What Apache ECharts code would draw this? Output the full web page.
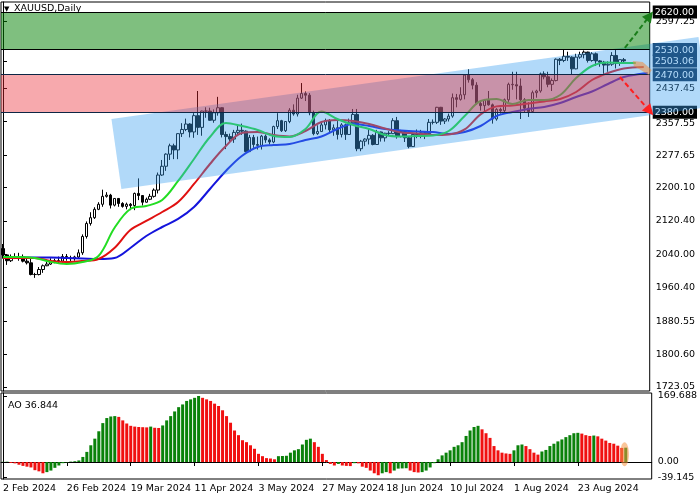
<!DOCTYPE html>
<html><head><meta charset="utf-8">
<script src="https://cdn.jsdelivr.net/npm/echarts@6/dist/echarts.min.js"></script>
<style>html,body{margin:0;padding:0;background:#fff}#c{width:700px;height:500px}</style>
</head><body><div id="c"></div>
<script>
// ================= DATA =================
const firstDay = [2024, 1, 2];          // 2 Feb 2024
const holidays = ['2024-03-29'];
const barCount = 157;
const futureSlots = 6;

const open = [
 2054,
 2039,2025,2035,2035,2034,
 2024,2020,1992,1992,2004,
 2013,2017,2024,2025,2024,
 2035,2031,2030,2034,2044,
 2083,2114,2128,2148,2160,
 2179,2182,2158,2174,2162,
 2155,2160,2157,2186,2181,
 2165,2172,2179,2194,
 2230,2251,2280,2300,2290,
 2329,2339,2352,2333,2372,
 2344,2383,2383,2361,2379,
 2391,2327,2322,2316,2332,
 2337,2335,2286,2320,2303,
 2301,2323,2314,2309,2346,
 2360,2336,2358,2385,2376,
 2414,2425,2421,2379,2329,
 2334,2350,2360,2338,2343,
 2327,2350,2327,2355,2375,
 2293,2311,2316,2325,2303,
 2333,2319,2330,2329,2360,
 2322,2334,2319,2298,2327,
 2326,2331,2329,2356,2356,
 2392,2359,2364,2371,2415,
 2411,2422,2469,2458,2445,
 2401,2396,2409,2398,2364,
 2387,2384,2410,2447,2446,
 2443,2410,2390,2382,2427,
 2431,2472,2465,2447,2456,
 2507,2504,2514,2512,2484,
 2512,2518,2524,2504,2520,
 2503,2500,2493,2495,2516,
 2497,2506
];
const high = [
 2065,
 2040,2040,2043,2044,2040,
 2030,2031,1996,2010,2016,
 2023,2031,2030,2035,2041,
 2041,2037,2037,2052,2088,
 2119,2141,2153,2165,2195,
 2189,2185,2175,2175,2165,
 2164,2163,2188,2222,2182,
 2176,2185,2198,2236,
 2266,2282,2305,2305,2330,
 2354,2365,2354,2378,2431,
 2384,2392,2391,2387,2417,
 2392,2334,2329,2338,2352,
 2353,2337,2326,2326,2322,
 2326,2327,2318,2348,2378,
 2362,2359,2390,2399,2422,
 2450,2430,2426,2384,2349,
 2358,2365,2364,2351,2359,
 2354,2353,2365,2388,2388,
 2314,2318,2342,2328,2338,
 2334,2331,2335,2366,2369,
 2338,2335,2323,2331,2339,
 2338,2335,2364,2363,2393,
 2393,2366,2377,2425,2424,
 2440,2469,2483,2462,2452,
 2407,2412,2431,2401,2390,
 2391,2413,2451,2477,2477,
 2461,2414,2404,2432,2434,
 2475,2478,2477,2461,2509,
 2510,2531,2525,2514,2520,
 2525,2528,2525,2524,2523,
 2505,2503,2502,2524,2529,
 2506,2510
];
const low = [
 2030,
 2015,2022,2029,2025,2021,
 2016,1990,1984,1990,1996,
 2012,2015,2019,2020,2021,
 2025,2024,2025,2030,2039,
 2078,2109,2125,2146,2154,
 2176,2150,2155,2154,2152,
 2148,2146,2146,2170,2157,
 2164,2170,2176,2186,
 2228,2240,2266,2268,2268,
 2321,2335,2320,2319,2326,
 2324,2367,2360,2355,2372,
 2320,2292,2309,2307,2325,
 2326,2285,2285,2295,2291,
 2291,2307,2303,2306,2340,
 2333,2333,2354,2372,2370,
 2412,2407,2373,2325,2326,
 2334,2339,2333,2324,2315,
 2320,2314,2326,2352,2287,
 2287,2299,2303,2301,2303,
 2310,2310,2325,2328,2317,
 2320,2309,2294,2297,2318,
 2318,2316,2327,2351,2352,
 2350,2352,2358,2367,2392,
 2408,2411,2451,2435,2398,
 2384,2380,2396,2353,2360,
 2377,2379,2405,2434,2411,
 2364,2379,2369,2381,2415,
 2427,2459,2440,2431,2454,
 2493,2500,2503,2470,2483,
 2508,2509,2499,2501,2491,
 2489,2472,2477,2491,2485,
 2491,2500
];
const close = [
 2039,
 2025,2035,2035,2034,2024,
 2020,1992,1992,2004,2013,
 2017,2024,2025,2024,2035,
 2031,2030,2034,2044,2083,
 2114,2128,2148,2160,2179,
 2182,2158,2174,2162,2155,
 2160,2157,2186,2181,2165,
 2172,2179,2194,2230,
 2251,2280,2300,2290,2329,
 2339,2352,2333,2372,2344,
 2383,2383,2361,2379,2391,
 2327,2322,2316,2332,2337,
 2335,2286,2320,2303,2301,
 2323,2314,2309,2346,2360,
 2336,2358,2385,2376,2414,
 2425,2421,2379,2329,2334,
 2350,2360,2338,2343,2327,
 2350,2327,2355,2375,2293,
 2311,2316,2325,2303,2333,
 2319,2330,2329,2360,2322,
 2334,2319,2298,2327,2326,
 2331,2329,2356,2356,2392,
 2359,2364,2371,2415,2411,
 2422,2469,2458,2445,2401,
 2396,2409,2398,2364,2387,
 2384,2410,2447,2446,2443,
 2410,2390,2382,2427,2431,
 2472,2465,2447,2456,2507,
 2504,2514,2512,2484,2512,
 2518,2524,2504,2520,2503,
 2500,2493,2495,2516,2497,
 2506,2503.06
];

// Alligator lines: [bar slot, price]
const jaw = [[0,2032.8],[4,2032.8],[8,2032.8],[12,2032.8],[16,2031.6],[20,2030.4],[24,2029.2],[28,2031.6],[32,2055.5],[36,2084.2],[40,2105.7],[44,2124.9],[48,2153.6],[52,2196.6],[56,2239.7],[60,2275.6],[64,2297.1],[68,2301.9],[72,2304.3],[76,2313.8],[80,2322.2],[84,2340.1],[88,2352.1],[92,2347.3],[96,2340.1],[100,2336.5],[104,2334.2],[108,2333.0],[112,2328.2],[116,2333.0],[120,2347.3],[124,2371.2],[128,2380.8],[132,2388.0],[136,2392.8],[140,2402.3],[144,2416.7],[148,2429.8],[152,2447.8],[156,2464.5],[160,2471.7],[162,2474.1]];
const teeth = [[0,2031.6],[4,2031.6],[8,2031.6],[12,2024.4],[16,2022.0],[20,2024.4],[24,2029.2],[28,2055.5],[32,2098.5],[36,2120.1],[40,2141.6],[44,2165.5],[48,2208.6],[52,2256.4],[56,2299.5],[60,2330.6],[64,2333.0],[68,2325.8],[72,2322.2],[76,2335.4],[80,2356.9],[84,2361.7],[88,2359.3],[92,2352.1],[96,2341.3],[100,2332.0],[104,2329.6],[108,2326.0],[112,2327.2],[116,2339.1],[120,2375.0],[124,2394.2],[128,2396.5],[132,2401.3],[136,2406.1],[140,2411.9],[144,2428.6],[148,2457.3],[152,2474.1],[156,2484.9],[161,2488.4]];
const lips = [[0,2034.0],[4,2034.0],[8,2031.6],[12,2022.0],[16,2017.2],[20,2022.0],[24,2036.4],[28,2103.3],[32,2148.8],[36,2155.9],[40,2170.3],[44,2215.8],[48,2268.4],[52,2321.0],[56,2354.5],[60,2347.3],[64,2337.7],[68,2323.4],[72,2321.0],[76,2340.1],[80,2382.0],[84,2364.1],[88,2349.7],[92,2340.1],[96,2325.8],[100,2322.2],[104,2323.4],[108,2324.6],[112,2335.3],[116,2371.2],[120,2407.1],[124,2411.9],[128,2399.9],[132,2409.5],[136,2409.5],[140,2421.5],[144,2462.1],[148,2490.8],[152,2499.2],[156,2498.0],[159,2498.0]];

const ao = [
 0.5,0.8,-2.5,-3.5,-7,-10,-12,-14,-21,-24,
 -29,-26,-22,-15,-9,-3,-1,1,2,4,
 13,26,43,60,79,100,113,117,118,116,
 107,99,93,91,90,89.5,89,91,88,87.5,
 94,107,118,130,141,148,157,161,165,169.688,
 165,161,157,150,144,133,118,101,81,69,
 56,51,43,34,21,15,10,9,7,15,
 15.5,16,24,30,33,45,57,60,51,39,
 21,5,-5,-9,-5,-9,-10,-10.5,-3,-3.5,
 -12,-15,-22,-29,-34,-29,-26,-29,-22,-17,
 -16.5,-16,-22,-26,-27,-26,-22,-14,-3,7,
 17,24,30,39,43,51,67,81,90,93,
 84,74,62,41,30,24,22,21,30,43,
 45,41,33,24,19,27,31,41,47,53,
 58,64,69,74,75,73,69,67,68,66,
 60,55,49,47,42,36.2,36.844
];

const priceTicks = [2597.25, 2437.45, 2357.55, 2277.65, 2200.10, 2120.40, 2040.00, 1960.40, 1880.55, 1800.60, 1723.05];
const blackTicks = [2620.00, 2380.00];
const navyTicks = [2530.00, 2503.06, 2470.00];
const aoTicks = [169.688, 0, -39.145];

const greenZone = [2530, 2620];
const redZone = [2380, 2470];
const levels = [2620, 2530, 2470, 2380];
const channel = [[27.25,2364.1],[174.75,2560.2],[177.25,2392.8],[29.75,2196.6]];
const upArrow = [[156.25,2534],[162.5,2611]];
const downArrow = [[155,2464.5],[162.5,2383]];
const wedge = [[158.25,2502.8],[160.75,2500.4],[163,2481.3],[162.25,2469.3],[160.25,2481.3],[158.5,2490.8]];
const aoMark = [154.6, 156.8, -11, 51];   // x from, x to, value low, value high

// ================= BUILD =================
const cats = [];
(function(){
  let t = Date.UTC(firstDay[0], firstDay[1], firstDay[2]);
  while (cats.length < barCount) {
    const d = new Date(t), dow = d.getUTCDay(), iso = d.toISOString().slice(0,10);
    if (dow !== 0 && dow !== 6 && holidays.indexOf(iso) < 0) cats.push(iso);
    t += 86400000;
  }
  for (let k = 0; k < futureSlots; k++) cats.push('');
})();
const MON = ['Jan','Feb','Mar','Apr','May','Jun','Jul','Aug','Sep','Oct','Nov','Dec'];
const fmtDate = s => { if (!s) return ''; const p = s.split('-'); return (+p[2]) + ' ' + MON[+p[1]-1] + ' ' + p[0]; };
const slotMax = barCount + futureSlots - 0.5;

const FONT = 'DejaVu Sans';
const FS = 9.5;
const has = (arr, v) => arr.some(t => Math.abs(t - v) < 1e-6);

const chart = echarts.init(document.getElementById('c'), null, {renderer: 'canvas'});
const labelEvery = (idx) => idx % 16 === 0 && idx < barCount;

const option = {
  animation: false,
  backgroundColor: '#fff',
  textStyle: {fontFamily: FONT},
  grid: [
    {left: 1, top: 2, width: 652, height: 389, show: true, borderColor: '#000', borderWidth: 1, containLabel: false},
    {left: 1, top: 393, width: 652, height: 86, show: true, borderColor: '#000', borderWidth: 1, containLabel: false}
  ],
  xAxis: [
    {type: 'category', gridIndex: 0, data: cats, boundaryGap: true, show: false},
    {type: 'category', gridIndex: 1, data: cats, boundaryGap: true,
      axisLine: {show: true, lineStyle: {color: '#000'}},
      axisTick: {show: true, alignWithLabel: true, interval: labelEvery, length: 4, lineStyle: {color: '#000'}},
      axisLabel: {interval: labelEvery, formatter: fmtDate, align: 'left', margin: 5, fontSize: FS, color: '#000', fontFamily: FONT}},
    {type: 'value', gridIndex: 0, min: -0.5, max: slotMax, show: false},
    {type: 'value', gridIndex: 1, min: -0.5, max: slotMax, show: false}
  ],
  yAxis: [
    {type: 'value', gridIndex: 0, position: 'right', min: 1713.4, max: 2643.9, scale: true,
      splitLine: {show: false},
      axisLine: {show: true, lineStyle: {color: '#000'}},
      axisTick: {show: true, length: 4, customValues: priceTicks.concat(blackTicks, navyTicks), lineStyle: {color: '#000'}},
      axisLabel: {customValues: priceTicks.concat(blackTicks, navyTicks), margin: 3, fontSize: FS, color: '#000', fontFamily: FONT,
        formatter: v => {
          const s = v.toFixed(2);
          if (has(blackTicks, v)) return '{b|' + s + '}';
          if (has(navyTicks, v)) return '{n|' + s + '}';
          if (Math.abs(v - 2357.55) < 1e-6) return '{d| ' + s + '}';
          return ' ' + s;
        },
        rich: {
          b: {color: '#fff', backgroundColor: '#000', padding: [2, 3, 1, 2], fontSize: FS, fontFamily: FONT},
          n: {color: '#fff', backgroundColor: '#0d2645', padding: [2, 3, 1, 2], fontSize: FS, fontFamily: FONT},
          d: {color: '#000', padding: [4, 0, 0, 0], fontSize: FS, fontFamily: FONT}
        }}},
    {type: 'value', gridIndex: 1, position: 'right', min: -43.7, max: 177.4, scale: true,
      splitLine: {show: false},
      axisLine: {show: true, lineStyle: {color: '#000'}},
      axisTick: {show: true, length: 4, customValues: aoTicks, lineStyle: {color: '#000'}},
      axisLabel: {customValues: aoTicks, margin: 3, fontSize: FS, color: '#000', fontFamily: FONT,
        formatter: v => ' ' + (Math.abs(v) < 1e-9 ? '0.00' : String(v))}}
  ],
  graphic: [
    {type: 'text', left: 4, top: 6, style: {text: '▼', font: '7px ' + FONT, fill: '#000'}},
    {type: 'text', left: 14, top: 4, style: {text: 'XAUUSD,Daily', font: FS + 'px ' + FONT, fill: '#000'}},
    {type: 'text', left: 8, top: 401, style: {text: 'AO 36.844', font: FS + 'px ' + FONT, fill: '#000'}}
  ],
  series: [
    {type: 'candlestick', name: 'XAUUSD', xAxisIndex: 0, yAxisIndex: 0, z: 2, barWidth: 3,
      data: open.map((o, i) => [o, close[i], low[i], high[i]]),
      itemStyle: {color: '#fff', color0: '#000', borderColor: '#000', borderColor0: '#000', borderWidth: 1}},
    {type: 'line', name: 'Jaw', xAxisIndex: 2, yAxisIndex: 0, z: 3, data: jaw, smooth: 0.35, symbol: 'none',
      lineStyle: {color: '#1414dc', width: 2}},
    {type: 'line', name: 'Teeth', xAxisIndex: 2, yAxisIndex: 0, z: 3, data: teeth, smooth: 0.35, symbol: 'none',
      lineStyle: {color: '#e01010', width: 2}},
    {type: 'line', name: 'Lips', xAxisIndex: 2, yAxisIndex: 0, z: 3, data: lips, smooth: 0.35, symbol: 'none',
      lineStyle: {color: '#22dd22', width: 2}},
    {type: 'custom', name: 'zones', xAxisIndex: 2, yAxisIndex: 0, z: 4, silent: true, clip: false,
      data: [[0, 0], [1, 0], [2, 0]],
      renderItem: (params, api) => {
        const k = params.dataIndex;
        if (k === 0) {
          return {type: 'polygon', shape: {points: channel.map(p => api.coord(p))},
            style: {fill: 'rgba(60,160,240,0.4)'}};
        }
        const zn = k === 1 ? greenZone : redZone;
        const a = api.coord([-0.5, zn[1]]), b = api.coord([slotMax, zn[0]]);
        return {type: 'rect', shape: {x: a[0], y: a[1], width: b[0] - a[0], height: b[1] - a[1]},
          style: {fill: k === 1 ? 'rgba(0,128,0,0.5)' : 'rgba(235,40,50,0.4)'}};
      },
      markLine: {silent: true, symbol: 'none', z: 5, label: {show: false},
        data: levels.map((v, i) => ({yAxis: v, lineStyle: {color: i < 2 ? '#000' : '#0d2645', width: 1, type: 'solid'}}))}},
    {type: 'custom', name: 'annotations', xAxisIndex: 2, yAxisIndex: 0, z: 6, silent: true, clip: false,
      data: [[0, 0]],
      renderItem: (params, api) => ({type: 'polygon', shape: {points: wedge.map(p => api.coord(p))},
        style: {fill: 'rgba(240,140,60,0.55)'}}),
      markLine: {silent: true, z: 7, symbol: ['none', 'triangle'], symbolSize: 11, label: {show: false},
        lineStyle: {type: [5, 3], width: 2},
        data: [
          [{coord: upArrow[0], lineStyle: {color: '#1a7d1a', type: [5, 3], width: 2}, itemStyle: {color: '#1a7d1a'}}, {coord: upArrow[1], itemStyle: {color: '#1a7d1a'}}],
          [{coord: downArrow[0], lineStyle: {color: '#ff2020', type: [5, 3], width: 2}, itemStyle: {color: '#ff2020'}}, {coord: downArrow[1], itemStyle: {color: '#ff2020'}}]
        ]}},
    {type: 'bar', name: 'AO', xAxisIndex: 1, yAxisIndex: 1, z: 2, barWidth: 3,
      data: ao.map((v, i) => ({value: v, itemStyle: {color: (i === 0 || v > ao[i - 1]) ? '#0a820a' : '#f01010'}}))},
    {type: 'custom', name: 'aoMark', xAxisIndex: 3, yAxisIndex: 1, z: 4, silent: true, clip: false,
      data: [[0, 0]],
      renderItem: (params, api) => {
        const a = api.coord([aoMark[0], aoMark[3]]), b = api.coord([aoMark[1], aoMark[2]]);
        return {type: 'ellipse', shape: {cx: (a[0] + b[0]) / 2, cy: (a[1] + b[1]) / 2, rx: (b[0] - a[0]) / 2, ry: (b[1] - a[1]) / 2},
          style: {fill: 'rgba(245,150,70,0.55)'}};
      }}
  ]
};
chart.setOption(option);
</script>
</body></html>
